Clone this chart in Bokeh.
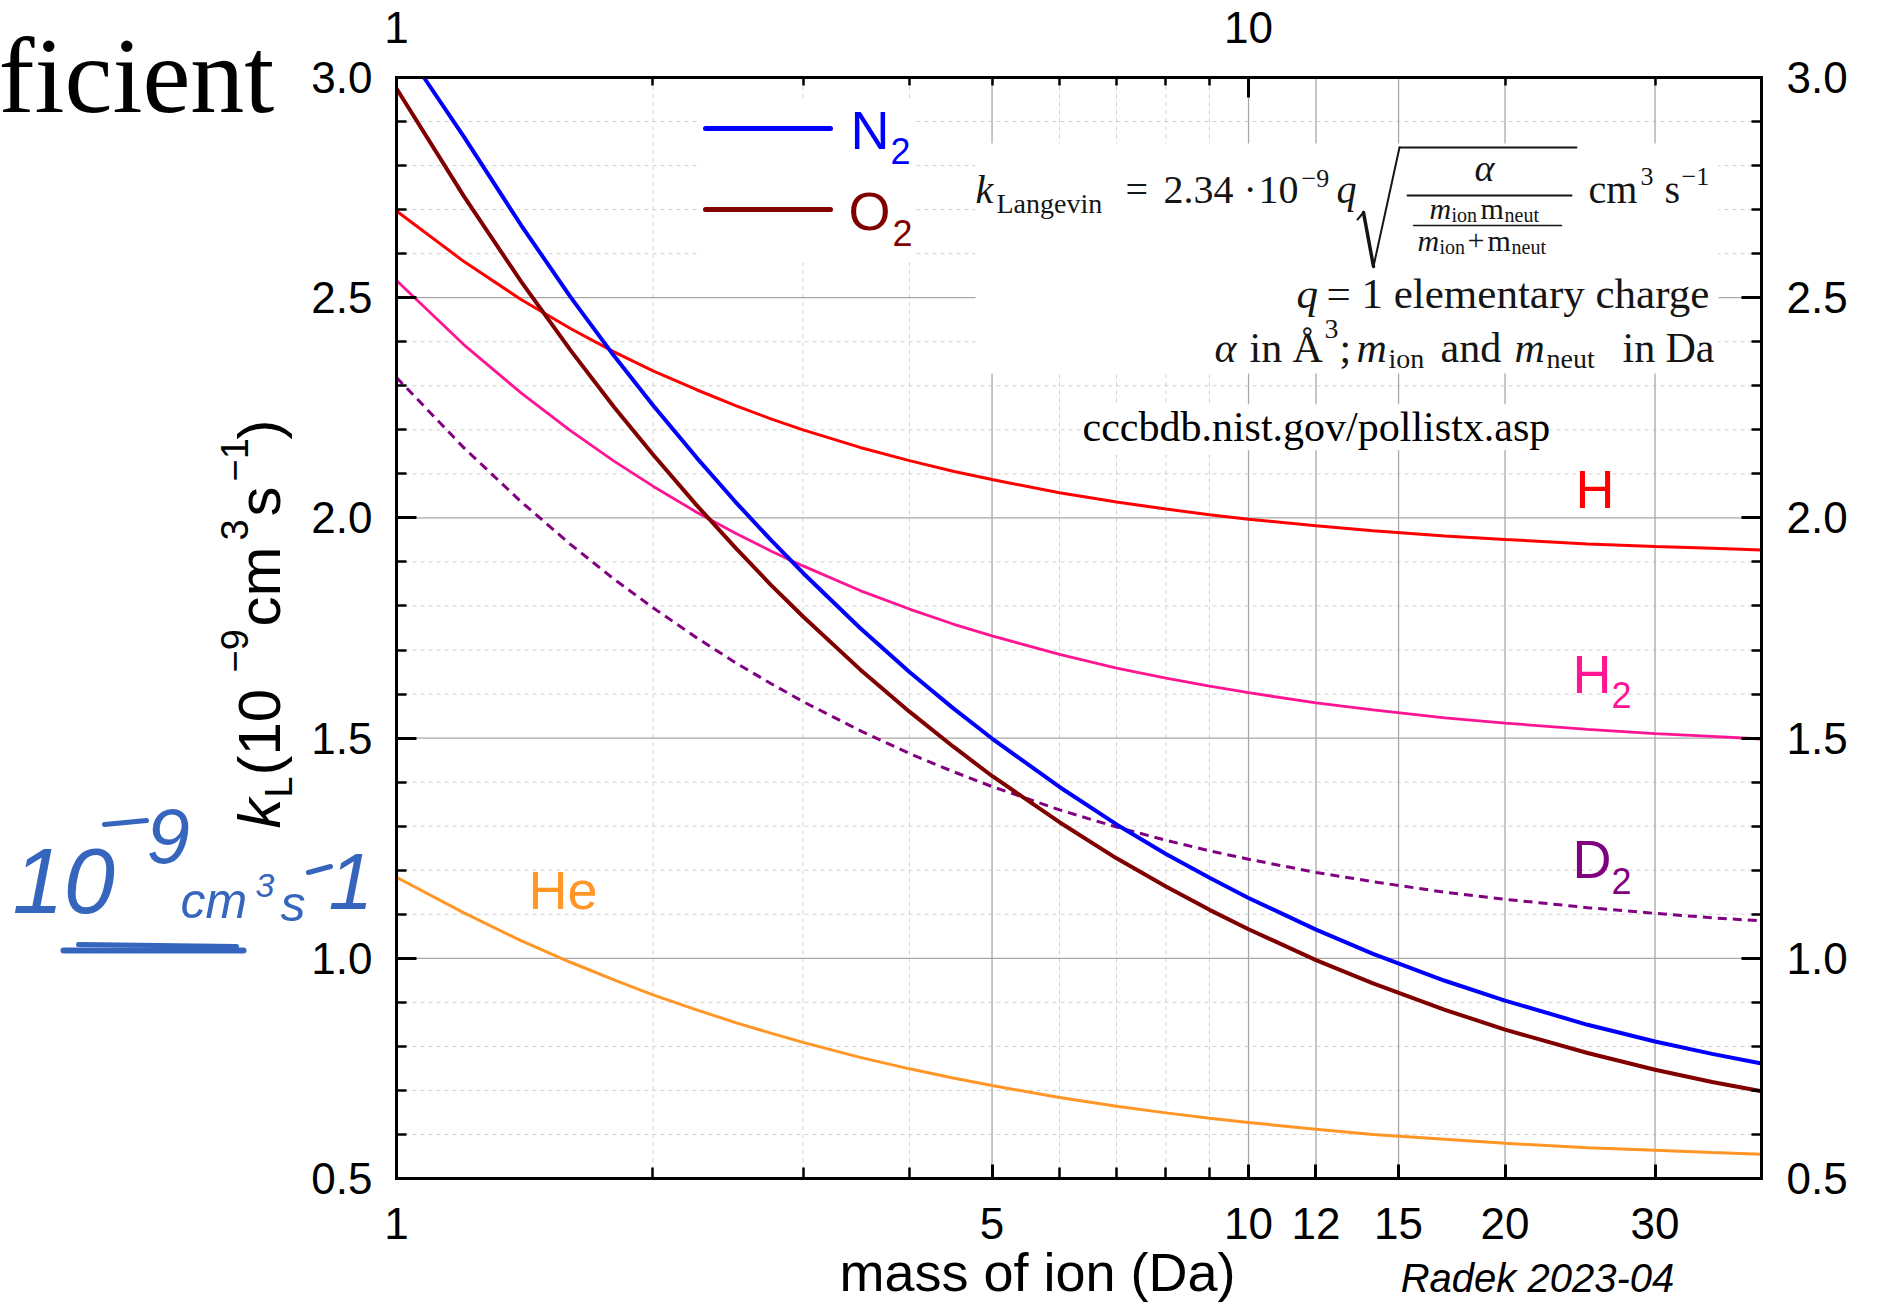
import numpy as np
from bokeh.plotting import figure
from bokeh.models import (Range1d, LinearAxis, LogAxis, FixedTicker, PrintfTickFormatter,
                          Label, BoxAnnotation, Arrow)
from bokeh.embed import file_html
from bokeh.resources import INLINE

# ---------------- data ----------------
mass = [1, 1.2, 1.4, 1.6, 1.8, 2, 2.25, 2.5, 2.75, 3, 3.5, 4, 4.5, 5, 6, 7, 8, 9, 10,
        12, 14, 17, 20, 25, 30, 35, 40]
k_H = [2.697, 2.582, 2.496, 2.430, 2.377, 2.334, 2.291, 2.255, 2.225, 2.200, 2.160, 2.130,
       2.106, 2.087, 2.057, 2.036, 2.020, 2.007, 1.997, 1.982, 1.971, 1.959, 1.951, 1.941,
       1.935, 1.931, 1.927]
k_H2 = [2.539, 2.393, 2.284, 2.198, 2.129, 2.072, 2.013, 1.965, 1.925, 1.891, 1.835, 1.793,
        1.759, 1.732, 1.690, 1.659, 1.636, 1.618, 1.603, 1.580, 1.564, 1.546, 1.534, 1.520,
        1.510, 1.504, 1.498]
k_D2 = [2.319, 2.159, 2.037, 1.940, 1.861, 1.796, 1.728, 1.671, 1.624, 1.583, 1.517, 1.465,
        1.424, 1.390, 1.337, 1.298, 1.268, 1.244, 1.225, 1.195, 1.174, 1.150, 1.134, 1.115,
        1.102, 1.092, 1.085]
k_He = [1.184, 1.103, 1.040, 0.991, 0.951, 0.917, 0.883, 0.854, 0.830, 0.809, 0.775, 0.749,
        0.728, 0.711, 0.684, 0.664, 0.649, 0.637, 0.627, 0.612, 0.600, 0.589, 0.580, 0.570,
        0.564, 0.559, 0.555]
mass_N2 = [1.077, 1.2, 1.4, 1.6, 1.8, 2, 2.25, 2.5, 2.75, 3, 3.5, 4, 4.5, 5, 6, 7, 8, 9, 10,
           12, 14, 17, 20, 25, 30, 35, 40]
k_N2 = [3.000, 2.865, 2.665, 2.502, 2.368, 2.256, 2.137, 2.036, 1.950, 1.875, 1.750, 1.650,
        1.568, 1.499, 1.389, 1.304, 1.237, 1.183, 1.137, 1.065, 1.010, 0.949, 0.904, 0.849,
        0.811, 0.783, 0.761]
k_O2 = [2.975, 2.730, 2.537, 2.381, 2.252, 2.144, 2.029, 1.932, 1.848, 1.776, 1.656, 1.560,
        1.481, 1.414, 1.309, 1.227, 1.163, 1.110, 1.066, 0.996, 0.943, 0.883, 0.838, 0.785,
        0.747, 0.719, 0.698]

x_label_ticks = [1, 5, 10, 12, 15, 20, 30]
x_minor_ticks = [2, 3, 4, 6, 7, 8, 9]
x_grid_major = [5, 10, 12, 15, 20, 30]
top_label_ticks = [1, 10]
top_minor_ticks = [2, 3, 4, 5, 6, 7, 8, 9, 20, 30]
y_label_ticks = [0.5, 1.0, 1.5, 2.0, 2.5, 3.0]
y_minor_ticks = [round(0.5 + 0.1 * i, 1) for i in range(26) if i % 5 != 0]

XMIN, XMAX, YMIN, YMAX = 1.0, 40.0, 0.5, 3.0

# ---------------- layout (pixel geometry of the drawn frame) ----------------
W, H = 1883, 1304
FL, FR, FT, FB = 396, 1761, 77, 1178


def X(px):
    return 10 ** (np.log10(XMIN) + (px - FL) / (FR - FL) * (np.log10(XMAX) - np.log10(XMIN)))


def Y(py):
    return YMAX - (py - FT) / (FB - FT) * (YMAX - YMIN)


# the plotting frame fills the whole canvas; axes are pinned at the data limits
p = figure(width=W, height=H, x_axis_type="log", x_axis_location=None, y_axis_location=None,
           x_range=Range1d(X(0), X(W)), y_range=Range1d(Y(H), Y(0)),
           output_backend="svg", toolbar_location=None,
           min_border=0, min_border_left=0, min_border_right=0,
           min_border_top=0, min_border_bottom=0,
           background_fill_color="white", border_fill_color="white")
p.outline_line_color = None
p.xgrid.visible = False
p.ygrid.visible = False

SANS = "Liberation Sans"
SERIF = "Liberation Serif"


def style_axis(ax, major_in, minor_in, standoff):
    ax.axis_line_width = 3
    ax.axis_line_color = "black"
    ax.axis_line_cap = "square"
    ax.major_tick_in = major_in
    ax.major_tick_out = 0
    ax.minor_tick_in = minor_in
    ax.minor_tick_out = 0
    ax.major_tick_line_width = 3
    ax.minor_tick_line_width = 2.5
    ax.major_tick_line_color = "black"
    ax.minor_tick_line_color = "black"
    ax.major_label_text_font = SANS
    ax.major_label_text_font_size = "44px"
    ax.major_label_text_color = "black"
    ax.major_label_standoff = standoff


# grid (drawn from the tick lists, limited to the data area)
p.segment(x0=x_minor_ticks, y0=[YMIN] * len(x_minor_ticks), x1=x_minor_ticks,
          y1=[YMAX] * len(x_minor_ticks), line_color="#cfcfcf", line_width=1,
          line_dash="4 4", level="underlay")
p.segment(x0=[XMIN] * len(y_minor_ticks), y0=y_minor_ticks, x1=[XMAX] * len(y_minor_ticks),
          y1=y_minor_ticks, line_color="#cfcfcf", line_width=1, line_dash="4 4",
          level="underlay")
p.segment(x0=x_grid_major, y0=[YMIN] * len(x_grid_major), x1=x_grid_major,
          y1=[YMAX] * len(x_grid_major), line_color="#a8a8a8", line_width=1.3,
          level="underlay")
p.segment(x0=[XMIN] * len(y_label_ticks), y0=y_label_ticks, x1=[XMAX] * len(y_label_ticks),
          y1=y_label_ticks, line_color="#a8a8a8", line_width=1.3, level="underlay")

# white boxes behind legend and formula
p.add_layout(BoxAnnotation(left=X(700), right=X(915), top=Y(100), bottom=Y(258),
                           fill_color="white", fill_alpha=1.0, line_alpha=0))
p.add_layout(BoxAnnotation(left=X(975), right=X(1718), top=Y(143), bottom=Y(373),
                           fill_color="white", fill_alpha=1.0, line_alpha=0))

# ---------------- curves ----------------
p.line(mass, k_He, line_color="#ff9626", line_width=3)
p.line(mass, k_D2, line_color="#800080", line_width=3, line_dash="9 6")
p.line(mass, k_H2, line_color="#ff1493", line_width=2.8)
p.line(mass, k_H, line_color="#ff0000", line_width=3)
p.line(mass, k_O2, line_color="#800000", line_width=4)
p.line(mass_N2, k_N2, line_color="#0000ff", line_width=4)

# ---------------- axes ----------------
xa = LogAxis(fixed_location=YMIN, bounds=(XMIN, XMAX),
             ticker=FixedTicker(ticks=x_label_ticks, minor_ticks=x_minor_ticks),
             formatter=PrintfTickFormatter(format="%d"))
style_axis(xa, 14, 11, 29)
p.add_layout(xa, "below")

ta = LogAxis(fixed_location=YMAX, bounds=(XMIN, XMAX),
             ticker=FixedTicker(ticks=top_label_ticks, minor_ticks=top_minor_ticks),
             formatter=PrintfTickFormatter(format="%d"))
style_axis(ta, 20, 8, 35)
p.add_layout(ta, "above")

ya = LinearAxis(fixed_location=XMIN, bounds=(YMIN, YMAX),
                ticker=FixedTicker(ticks=y_label_ticks, minor_ticks=y_minor_ticks),
                formatter=PrintfTickFormatter(format="%.1f"))
style_axis(ya, 20, 10, 24)
p.add_layout(ya, "left")

ra = LinearAxis(fixed_location=XMAX, bounds=(YMIN, YMAX),
                ticker=FixedTicker(ticks=y_label_ticks, minor_ticks=y_minor_ticks),
                formatter=PrintfTickFormatter(format="%.1f"))
style_axis(ra, 20, 10, 25)
p.add_layout(ra, "right")


# ---------------- helpers for text / strokes ----------------
def lab(px, py, text, size, color="black", font=SANS, style="normal", align="left",
        rotated=False, bg=None):
    # (px, py) = start of the baseline in canvas pixels
    if rotated:
        x, y, ang = X(px - 0.34 * size), Y(py), np.pi / 2
    else:
        x, y, ang = X(px), Y(py - 0.34 * size), 0.0
    kw = dict(x=x, y=y, text=text, text_font=font, text_font_size=f"{size}px",
              text_color=color, text_font_style=style, text_align=align,
              text_baseline="middle", angle=ang)
    if bg is not None:
        kw["background_fill_color"] = bg
    p.add_layout(Label(**kw))


def seg(x0, y0, x1, y1, width, color="black"):
    p.add_layout(Arrow(end=None, x_start=X(x0), y_start=Y(y0), x_end=X(x1), y_end=Y(y1),
                       line_width=width, line_color=color, line_cap="round"))


# legend
seg(705, 128, 830, 128, 5, "#0000ff")
seg(705, 209, 830, 209, 5, "#800000")
lab(850, 148, "N", 54, "#0000ff")
lab(890, 163, "2", 36, "#0000ff")
lab(848, 229, "O", 54, "#800000")
lab(892, 245, "2", 36, "#800000")

# series labels
lab(1575, 507, "H", 54, "#ff0000")
lab(1572, 692, "H", 54, "#ff1493")
lab(1611, 707, "2", 36, "#ff1493")
lab(1572, 877, "D", 54, "#800080")
lab(1611, 893, "2", 36, "#800080")
lab(528, 908, "He", 54, "#ff9626")

# formula
FC = "#151515"
lab(975, 203, "k", 40, FC, SERIF, "italic")
lab(996, 213, "Langevin", 28, FC, SERIF)
lab(1125, 203, "=", 40, FC, SERIF)
lab(1163, 203, "2.34", 40, FC, SERIF)
lab(1243, 203, "·", 40, FC, SERIF)
lab(1258, 203, "10", 40, FC, SERIF)
lab(1301, 187, "−9", 26, FC, SERIF)
lab(1336, 203, "q", 40, FC, SERIF, "italic")
seg(1357, 219, 1363, 212, 2, FC)
seg(1363, 212, 1373, 266, 3.5, FC)
seg(1373, 266, 1399, 147, 2, FC)
seg(1399, 147, 1576, 147, 2, FC)
lab(1474, 180, "α", 38, FC, SERIF, "italic")
seg(1407, 195, 1571, 195, 2, FC)
lab(1429, 218, "m", 30, FC, SERIF, "italic")
lab(1451, 221, "ion", 20, FC, SERIF)
lab(1480, 218, "m", 30, FC, SERIF)
lab(1504, 221, "neut", 20, FC, SERIF)
seg(1413, 225, 1561, 225, 1.5, FC)
lab(1417, 250, "m", 30, FC, SERIF, "italic")
lab(1439, 253, "ion", 20, FC, SERIF)
lab(1467, 250, "+", 30, FC, SERIF)
lab(1487, 250, "m", 30, FC, SERIF)
lab(1511, 253, "neut", 20, FC, SERIF)
lab(1588, 203, "cm", 40, FC, SERIF)
lab(1640, 185, "3", 26, FC, SERIF)
lab(1664, 203, "s", 40, FC, SERIF)
lab(1681, 185, "−1", 26, FC, SERIF)

lab(1296, 308, "q", 43, FC, SERIF, "italic")
lab(1326, 308, "= 1 elementary charge", 43, FC, SERIF)

lab(1214, 362, "α", 42, FC, SERIF, "italic")
lab(1249, 362, "in", 42, FC, SERIF)
lab(1292, 362, "Å", 42, FC, SERIF)
lab(1324, 338, "3", 28, FC, SERIF)
lab(1339, 362, ";", 42, FC, SERIF)
lab(1356, 362, "m", 42, FC, SERIF, "italic")
lab(1388, 368, "ion", 28, FC, SERIF)
lab(1440, 362, "and", 42, FC, SERIF)
lab(1514, 362, "m", 42, FC, SERIF, "italic")
lab(1546, 368, "neut", 28, FC, SERIF)
lab(1622, 362, "in", 42, FC, SERIF)
lab(1665, 362, "Da", 42, FC, SERIF)

lab(1082, 441, "cccbdb.nist.gov/pollistx.asp", 42, "black", SERIF, bg="white")

# y axis title (rotated pieces, baseline at x=279 for the main text)
lab(279, 828, "k", 60, "black", SANS, "italic", rotated=True)
lab(291, 797, "L", 38, "black", SANS, rotated=True)
lab(279, 775, "(10", 60, "black", SANS, rotated=True)
lab(247, 672, "−9", 38, "black", SANS, rotated=True)
lab(279, 626, "cm", 60, "black", SANS, rotated=True)
lab(247, 540, "3", 38, "black", SANS, rotated=True)
lab(279, 516, "s", 60, "black", SANS, rotated=True)
lab(247, 481, "−1", 38, "black", SANS, rotated=True)
lab(279, 439, ")", 60, "black", SANS, rotated=True)

# x axis title and signature
lab(1037, 1290, "mass of ion (Da)", 54, "black", SANS, align="center")
lab(1537, 1291, "Radek 2023-04", 40, "black", SANS, "italic", align="center")

# cropped slide title
lab(-2, 112, "ficient", 108, "black", SERIF)

# handwritten note
HB = "#3565bd"
lab(12, 912, "10", 92, HB, SANS, "italic")
seg(104, 824, 146, 820, 5, HB)
lab(146, 862, "9", 78, HB, SANS, "italic")
lab(180, 917, "cm", 50, HB, SANS, "italic")
lab(255, 897, "3", 34, HB, SANS, "italic")
lab(280, 920, "s", 50, HB, SANS, "italic")
seg(308, 872, 330, 866, 5, HB)
lab(328, 908, "1", 80, HB, SANS, "italic")
seg(63, 950, 243, 950, 6, HB)
seg(78, 944, 236, 946, 5, HB)

open("out.html", "w").write(file_html(p, INLINE))
